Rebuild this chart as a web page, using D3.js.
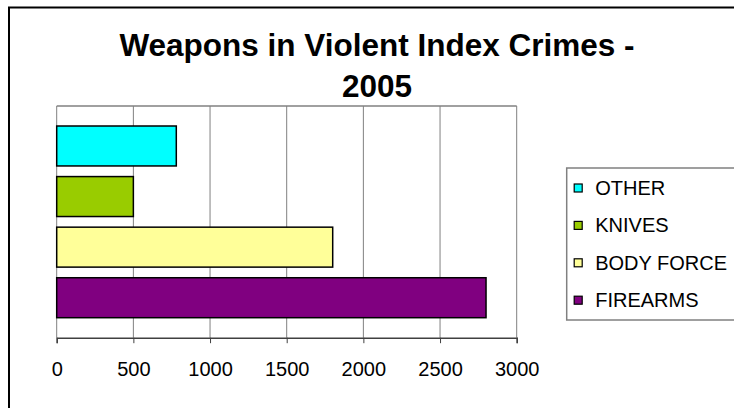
<!DOCTYPE html>
<html>
<head>
<meta charset="utf-8">
<script src="https://cdn.jsdelivr.net/npm/d3@7"></script>
<style>
  body { margin: 0; background: #fff; }
  text { font-family: "Liberation Sans", Arial, sans-serif; }
</style>
</head>
<body>
<div id="chart"></div>
<script>
// series (top to bottom as drawn) and their values
let series = ["OTHER", "KNIVES", "BODY FORCE", "FIREARMS"];
let values = [780, 500, 1800, 2800];
let colors = ["#00ffff", "#99cc00", "#ffff99", "#800080"];
let ticks = [0, 500, 1000, 1500, 2000, 2500, 3000];
let titleLines = ["Weapons in Violent Index Crimes -", "2005"];

const W = 734, H = 408;
var margin = {top: 106, left: 56.7},
    width = 460,
    height = 231.7;

let svg = d3.select("#chart")
    .append("svg")
        .attr("width", W)
        .attr("height", H);

// outer chart border (right and bottom run off the picture)
svg.append("rect")
    .attr("x", 9).attr("y", 7.5)
    .attr("width", 740).attr("height", 420)
    .attr("fill", "none")
    .attr("stroke", "#000")
    .attr("stroke-width", 2);

// title
svg.append("g").selectAll("text")
    .data(titleLines)
    .enter()
    .append("text")
        .attr("x", 377)
        .attr("y", (d, i) => 56 + i * 41)
        .attr("text-anchor", "middle")
        .style("font-weight", "bold")
        .style("font-size", "31.5px")
        .text(d => d);

let g = svg.append("g")
    .attr("transform", "translate(" + margin.left + "," + margin.top + ")");

let x = d3.scaleLinear()
    .domain([0, 3000])
    .range([0, width]);

// one category, four series clustered inside it
let y = d3.scaleBand()
    .domain(series)
    .range([20, height - 20])
    .paddingInner(0.21)
    .paddingOuter(0);

// gridlines
g.selectAll("line.grid")
    .data(ticks)
    .enter()
    .append("line")
        .attr("class", "grid")
        .attr("x1", d => x(d)).attr("x2", d => x(d))
        .attr("y1", 0).attr("y2", height)
        .attr("stroke", "#808080")
        .attr("stroke-width", 1);

// plot area top border
g.append("line")
    .attr("x1", 0).attr("x2", width)
    .attr("y1", 0).attr("y2", 0)
    .attr("stroke", "#808080")
    .attr("stroke-width", 1.5);

// bars
g.selectAll("rect.bar")
    .data(series)
    .enter()
    .append("rect")
        .attr("class", "bar")
        .attr("x", 0)
        .attr("y", d => y(d))
        .attr("width", (d, i) => x(values[i]))
        .attr("height", y.bandwidth())
        .attr("fill", (d, i) => colors[i])
        .attr("stroke", "#000")
        .attr("stroke-width", 1.5);

// x axis
let xAxis = g.append("g")
    .attr("transform", "translate(0," + height + ")")
    .call(d3.axisBottom(x)
            .tickValues(ticks)
            .tickFormat(d3.format("d"))
            .tickSize(5.5)
            .tickPadding(18.5));

xAxis.select(".domain").attr("stroke", "#404040").attr("stroke-width", 1.5);
xAxis.selectAll(".tick line").attr("stroke", "#404040");
xAxis.selectAll(".tick text")
    .style("font-family", "'Liberation Sans', Arial, sans-serif")
    .style("font-size", "20px")
    .attr("fill", "#000");

// legend
let legend = svg.append("g")
    .attr("transform", "translate(566.7,168)");

legend.append("rect")
    .attr("width", 200).attr("height", 152)
    .attr("fill", "#fff")
    .attr("stroke", "#808080")
    .attr("stroke-width", 1.5);

let item = legend.selectAll("g.item")
    .data(series)
    .enter()
    .append("g")
        .attr("class", "item")
        .attr("transform", (d, i) => "translate(0," + (20 + i * 37.4) + ")");

item.append("rect")
    .attr("x", 7.5).attr("y", -4)
    .attr("width", 8).attr("height", 8)
    .attr("fill", (d, i) => colors[i])
    .attr("stroke", "#000")
    .attr("stroke-width", 1.2);

item.append("text")
    .attr("x", 28.5)
    .attr("y", 7)
    .style("font-size", "20px")
    .text(d => d);
</script>
</body>
</html>
